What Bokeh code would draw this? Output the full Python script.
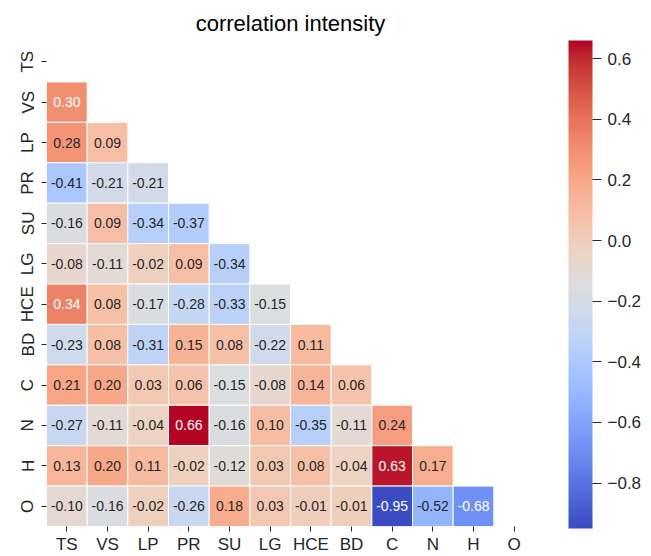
import numpy as np
from bokeh.plotting import figure
from bokeh.models import (ColumnDataSource, LinearColorMapper, ColorBar, FixedTicker,
                          CustomJSTickFormatter, FactorRange)
from bokeh.transform import transform
from bokeh.core.properties import value
from bokeh.embed import file_html
from bokeh.resources import INLINE

# ---------------- data ----------------
labels = ["TS", "VS", "LP", "PR", "SU", "LG", "HCE", "BD", "C", "N", "H", "O"]
row_VS = [0.30]
row_LP = [0.28, 0.09]
row_PR = [-0.41, -0.21, -0.21]
row_SU = [-0.16, 0.09, -0.34, -0.37]
row_LG = [-0.08, -0.11, -0.02, 0.09, -0.34]
row_HCE = [0.34, 0.08, -0.17, -0.28, -0.33, -0.15]
row_BD = [-0.23, 0.08, -0.31, 0.15, 0.08, -0.22, 0.11]
row_C = [0.21, 0.20, 0.03, 0.06, -0.15, -0.08, 0.14, 0.06]
row_N = [-0.27, -0.11, -0.04, 0.66, -0.16, 0.10, -0.35, -0.11, 0.24]
row_H = [0.13, 0.20, 0.11, -0.02, -0.12, 0.03, 0.08, -0.04, 0.63, 0.17]
row_O = [-0.10, -0.16, -0.02, -0.26, 0.18, 0.03, -0.01, -0.01, -0.95, -0.52, -0.68]
rows = {"VS": row_VS, "LP": row_LP, "PR": row_PR, "SU": row_SU, "LG": row_LG,
        "HCE": row_HCE, "BD": row_BD, "C": row_C, "N": row_N, "H": row_H, "O": row_O}
cbar_ticks = [-0.8, -0.6, -0.4, -0.2, 0.0, 0.2, 0.4, 0.6]
title_text = "correlation intensity"

# ---------------- coolwarm palette (Moreland table) ----------------
_cw = [(59,76,192),(68,90,204),(77,104,215),(87,117,225),(98,130,234),(108,142,241),
       (119,154,247),(130,165,251),(141,176,254),(152,185,255),(163,194,255),(174,201,253),
       (184,208,249),(194,213,244),(204,217,238),(213,219,230),(221,221,221),(229,216,209),
       (236,211,197),(241,204,184),(245,196,172),(247,187,160),(247,177,148),(247,166,135),
       (244,154,123),(241,141,111),(236,127,99),(229,112,88),(222,96,77),(213,80,66),
       (203,62,56),(192,40,47),(180,4,38)]
_cw = np.array(_cw, dtype=float)
_pos = np.linspace(0, 1, len(_cw))
_t = np.linspace(0, 1, 256)
_rgb = np.stack([np.interp(_t, _pos, _cw[:, k]) for k in range(3)], axis=1)
palette = ["#%02x%02x%02x" % tuple(int(round(c)) for c in col) for col in _rgb]

xs, ys, vals = [], [], []
for r, lst in rows.items():
    for j, v in enumerate(lst):
        xs.append(labels[j]); ys.append(r); vals.append(v)
vmin, vmax = min(vals), max(vals)


def _lum(hexc):
    c = np.array([int(hexc[i:i + 2], 16) for i in (1, 3, 5)]) / 255.0
    c = np.where(c <= 0.03928, c / 12.92, ((c + 0.055) / 1.055) ** 2.4)
    return 0.2126 * c[0] + 0.7152 * c[1] + 0.0722 * c[2]


tcolors = []
for v in vals:
    idx = int(np.floor((v - vmin) / (vmax - vmin) * 256))
    idx = max(0, min(255, idx))
    tcolors.append("#262626" if _lum(palette[idx]) > 0.408 else "#ffffff")

src = ColumnDataSource(dict(x=xs, y=ys, v=vals, t=["%.2f" % v for v in vals], tc=tcolors))
mapper = LinearColorMapper(palette=palette, low=vmin, high=vmax)

FONT = "Liberation Sans"
DARK = "#262626"

p = figure(width=651, height=556, x_range=FactorRange(*labels),
           y_range=FactorRange(*labels[::-1]), output_backend="svg",
           toolbar_location=None, min_border_left=46, min_border_right=117,
           min_border_top=41, min_border_bottom=27)
p.title.text = title_text
p.title.align = "center"
p.title.text_font = FONT
p.title.text_font_size = "22px"
p.title.text_font_style = "normal"
p.title.text_color = "#000000"
p.title.standoff = 11

p.rect(x="x", y="y", width=1, height=1, source=src,
       fill_color=transform("v", mapper), line_color="white", line_width=1)
p.text(x="x", y="y", text="t", source=src, text_align="center", text_baseline="middle",
       text_font=value(FONT), text_font_size="14px", text_color="tc")

for ax in (p.xaxis[0], p.yaxis[0]):
    ax.axis_line_color = None
    ax.major_tick_line_color = DARK
    ax.major_tick_line_width = 1
    ax.major_tick_out = 5
    ax.major_tick_in = 0
    ax.minor_tick_line_color = None
    ax.major_label_text_font = FONT
    ax.major_label_text_font_size = "17px"
    ax.major_label_text_color = DARK
    ax.major_label_standoff = 4
p.xaxis[0].major_label_standoff = 3
p.yaxis[0].major_label_orientation = "vertical"
p.xgrid.grid_line_color = None
p.ygrid.grid_line_color = None
p.outline_line_color = None

cb = ColorBar(color_mapper=mapper, location=(34, -2), width=24, height=488,
              padding=0, margin=0, ticker=FixedTicker(ticks=cbar_ticks),
              formatter=CustomJSTickFormatter(code="return (tick < -1e-9 ? '\\u2212' : '') + Math.abs(tick).toFixed(1);"),
              major_tick_in=0, major_tick_out=9, major_tick_line_color=DARK,
              major_label_text_font=FONT, major_label_text_font_size="17px",
              major_label_text_color=DARK, label_standoff=6, bar_line_color=None,
              background_fill_alpha=0, border_line_color=None)
p.add_layout(cb, "right")

open("out.html", "w").write(file_html(p, INLINE))
